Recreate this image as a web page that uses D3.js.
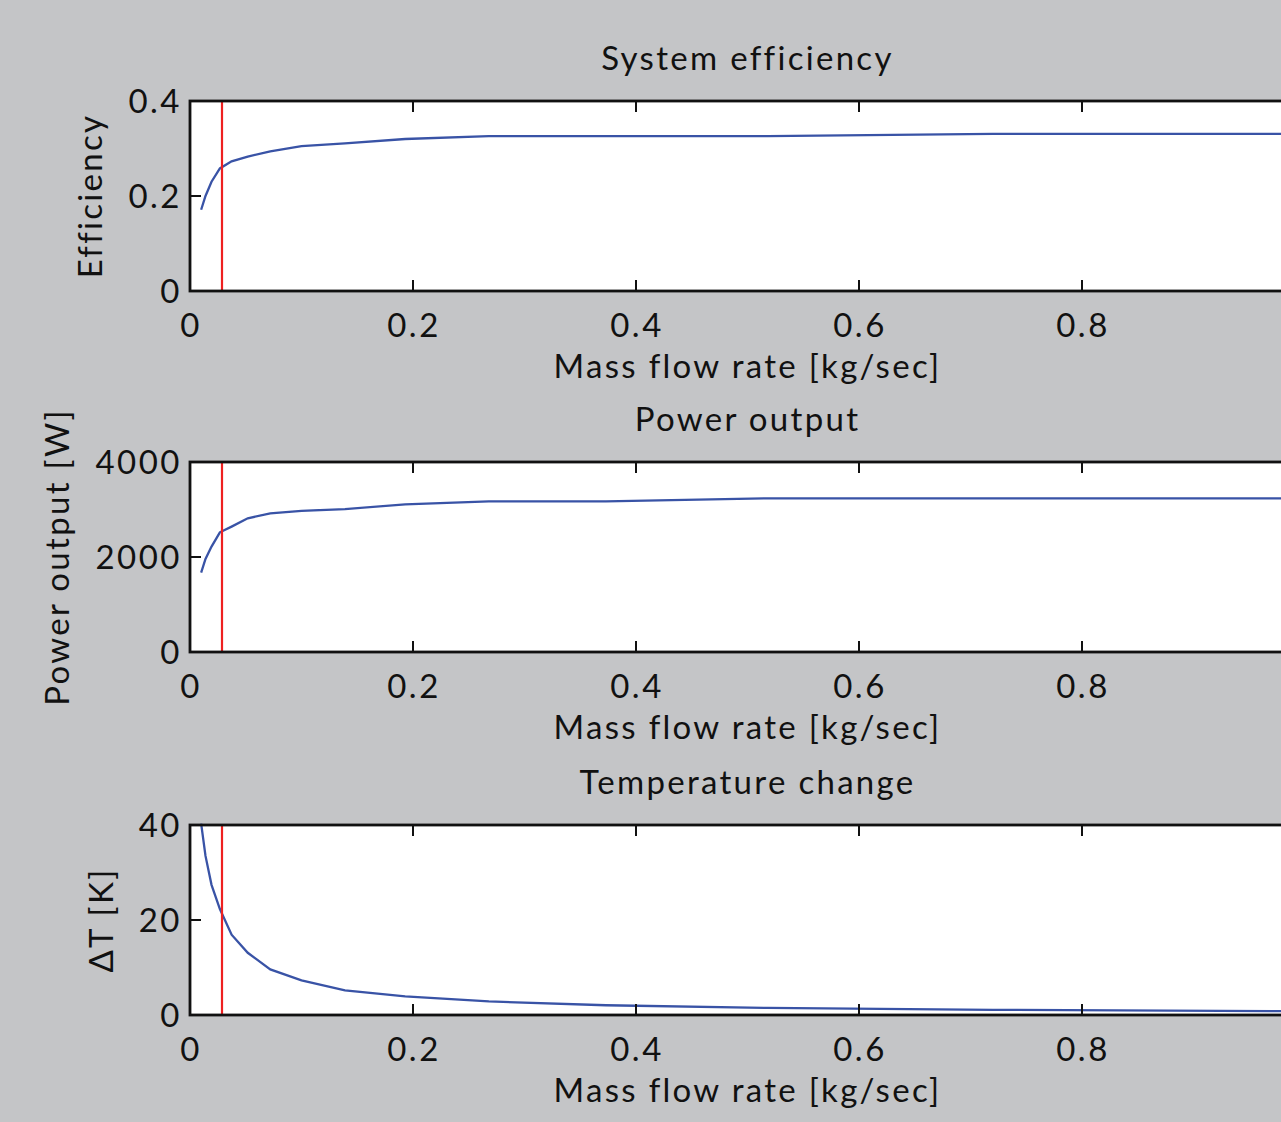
<html>
<meta charset="utf-8" />
<head>
<title>Mass flow rate study</title>
<script src="https://cdn.jsdelivr.net/npm/d3@7"></script>
<style>
	body { margin: 0; background: #c4c5c7; }
	svg { display: block; }
	text { font-family: Lato, "Open Sans", sans-serif; fill: #111; font-size: 33px; }
	text.lab { letter-spacing: 2.3px; }
	text.tick { letter-spacing: 2.5px; }
</style>
<script>
// mass flow rate [kg/sec]
const massFlow = [0.01, 0.0139, 0.0193, 0.0268, 0.0373, 0.0518, 0.072, 0.1, 0.139, 0.193, 0.268, 0.373, 0.518, 0.72, 1.0];
const efficiency = [0.171, 0.200, 0.230, 0.258, 0.273, 0.283, 0.294, 0.305, 0.311, 0.320, 0.326, 0.326, 0.326, 0.331, 0.331];
const powerOut = [1670, 1960, 2220, 2520, 2640, 2815, 2920, 2970, 3010, 3110, 3170, 3170, 3235, 3235, 3235];
const deltaT = [40.3, 33.5, 27.4, 22.3, 16.9, 13.1, 9.6, 7.3, 5.2, 3.9, 2.85, 2.05, 1.5, 1.1, 0.8];
const designFlow = 0.0287;   // red marker

const xTicks = [0, 0.2, 0.4, 0.6, 0.8, 1];
const panels = [
	{ title: 'System efficiency', ylabel: 'Efficiency', values: efficiency, ymax: 0.4, yTicks: [0, 0.2, 0.4], fmt: d => d === 0 ? '0' : d.toFixed(1) },
	{ title: 'Power output', ylabel: 'Power output [W]', values: powerOut, ymax: 4000, yTicks: [0, 2000, 4000], fmt: d => String(d) },
	{ title: 'Temperature change', ylabel: '\u0394T [K]', values: deltaT, ymax: 40, yTicks: [0, 20, 40], fmt: d => String(d) }
];

window.onload = function() {
	const svg = d3.select('svg');
	const left = 190, right = 1305, h = 190;
	const tops = [101, 462, 825];

	let x = d3.scaleLinear().domain([0, 1]).range([left, right]);

	panels.forEach((p, i) => {
		const top = tops[i], bottom = top + h;
		let y = d3.scaleLinear().domain([0, p.ymax]).range([bottom, top]);
		let g = svg.append('g');

		// white plot box
		g.append('rect').attr('x', left).attr('y', top).attr('width', right - left).attr('height', h).attr('fill', 'white');

		// data line, red marker
		let line = d3.line().x((d, k) => x(massFlow[k])).y(d => y(d));
		g.append('path').attr('d', line(p.values)).attr('fill', 'none').attr('stroke', '#3953a6').attr('stroke-width', 2.3);
		g.append('line').attr('x1', x(designFlow)).attr('x2', x(designFlow)).attr('y1', top).attr('y2', bottom)
			.attr('stroke', '#ee2020').attr('stroke-width', 2.2);

		// ticks inside, both sides
		g.selectAll('line.xt').data(xTicks).enter().append('line')
			.attr('x1', d => x(d)).attr('x2', d => x(d)).attr('y1', bottom).attr('y2', bottom - 11)
			.attr('stroke', '#111').attr('stroke-width', 2);
		g.selectAll('line.xt2').data(xTicks).enter().append('line')
			.attr('x1', d => x(d)).attr('x2', d => x(d)).attr('y1', top).attr('y2', top + 11)
			.attr('stroke', '#111').attr('stroke-width', 2);
		g.selectAll('line.yt').data(p.yTicks).enter().append('line')
			.attr('x1', left).attr('x2', left + 11).attr('y1', d => y(d)).attr('y2', d => y(d))
			.attr('stroke', '#111').attr('stroke-width', 2);

		// frame
		g.append('rect').attr('x', left).attr('y', top).attr('width', right - left).attr('height', h)
			.attr('fill', 'none').attr('stroke', '#111').attr('stroke-width', 2.8);

		// tick labels
		g.selectAll('text.xl').data(xTicks.slice(0, 5)).enter().append('text')
			.attr('class', 'tick')
			.attr('x', d => x(d) + 1).attr('y', bottom + 46).attr('text-anchor', 'middle')
			.text(d => d === 0 ? '0' : d.toFixed(1));
		let yl = g.selectAll('text.yl').data(p.yTicks).enter().append('text')
			.attr('class', 'tick')
			.attr('x', left - 8).attr('y', d => y(d) + 12).attr('text-anchor', 'end')
			.text(p.fmt);

		let minX = d3.min(yl.nodes(), n => n.getBBox().x);

		// titles
		g.append('text').attr('class', 'lab').attr('x', (left + right) / 2).attr('y', top - 31).attr('text-anchor', 'middle')
			.text(p.title);
		g.append('text').attr('class', 'lab').attr('x', (left + right) / 2).attr('y', bottom + 87).attr('text-anchor', 'middle')
			.text('Mass flow rate [kg/sec]');
		g.append('text').attr('class', 'lab')
			.attr('transform', 'translate(' + (minX - 26) + ',' + (top + h / 2) + ') rotate(-90)')
			.attr('text-anchor', 'middle').text(p.ylabel);
	});
};
</script>
</head>
<body>
<svg width="1281" height="1122"></svg>
</body>
</html>
